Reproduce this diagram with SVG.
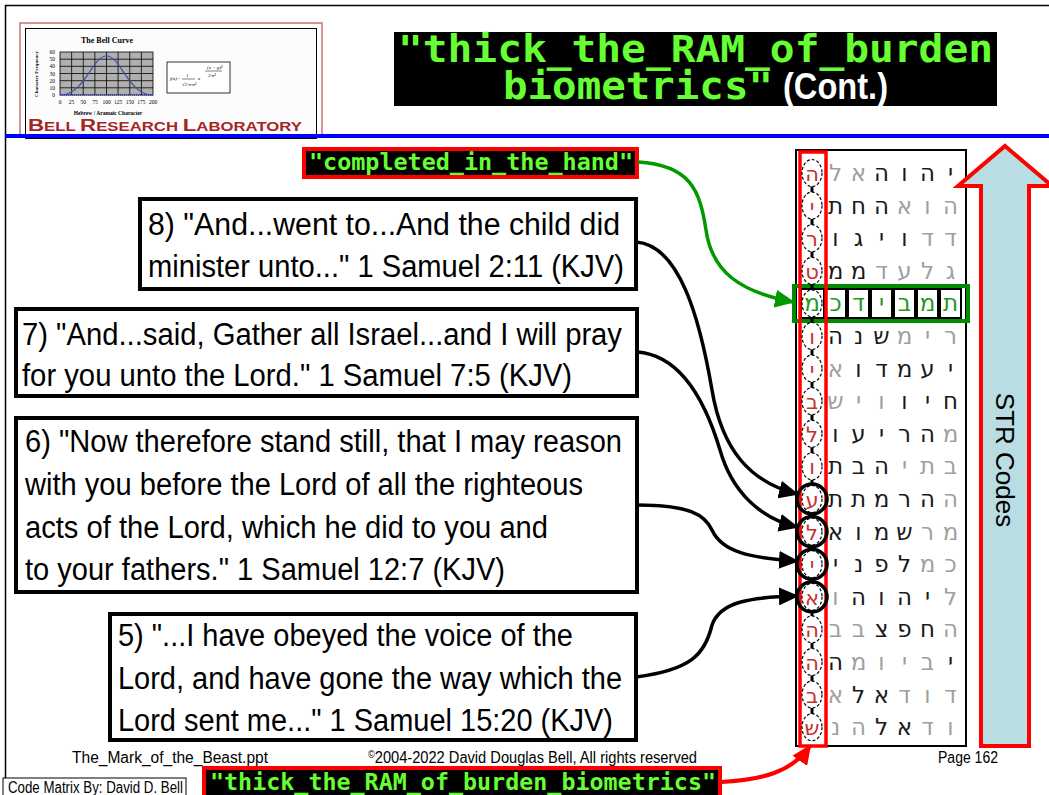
<svg xmlns="http://www.w3.org/2000/svg" width="1049" height="795" viewBox="0 0 1049 795">
<style>
.box{fill:#fff;stroke:#000;stroke-width:4}
.bt{font-family:"Liberation Sans",Arial,sans-serif;font-size:31px;fill:#000}
.mono{font-family:"DejaVu Sans Mono","Liberation Mono",monospace;font-weight:bold;fill:#66ff33}
.heb{font-family:"DejaVu Sans","Liberation Sans",sans-serif;font-size:23px;text-anchor:middle}
.b{fill:#1a1a1a}.g{fill:#a0a0a0}.r{fill:#c83030;font-size:21px}.gr{fill:#1f9a1f}
.ell{fill:none;stroke:#000;stroke-width:1.2;stroke-dasharray:3 2}
.chain{stroke:#000;stroke-width:3}
.circ{fill:none;stroke:#000;stroke-width:3.5}
.cell{fill:#fff;stroke:#000;stroke-width:2}
.conn{fill:none;stroke:#000;stroke-width:3.5}
.foot{font-family:"Liberation Sans",Arial,sans-serif;font-size:16px;fill:#000}
.lg{font-family:"Liberation Serif","Times New Roman",serif;fill:#000}
</style>
<defs>
<marker id="ahk" markerUnits="userSpaceOnUse" markerWidth="20" markerHeight="18" refX="18" refY="9" orient="auto"><path d="M0,0 L20,9 L0,18 z" fill="#000"/></marker>
<marker id="ahg" markerUnits="userSpaceOnUse" markerWidth="20" markerHeight="18" refX="18" refY="9" orient="auto"><path d="M0,0 L20,9 L0,18 z" fill="#009900"/></marker>
<marker id="ahr" markerUnits="userSpaceOnUse" markerWidth="20" markerHeight="18" refX="18" refY="9" orient="auto"><path d="M0,0 L20,9 L0,18 z" fill="#ff0000"/></marker>
</defs>
<rect width="1049" height="795" fill="#fff"/>
<path d="M5.5,795 L5.5,5.5 L1049,5.5" fill="none" stroke="#000" stroke-width="1.5"/>

<g id="logo">
<rect x="20" y="23" width="302" height="114" fill="#fff" stroke="#c87070" stroke-width="1.5"/>
<rect x="25.5" y="28.5" width="291" height="110" fill="#fcfcfc" stroke="#000" stroke-width="1"/>
<text class="lg" x="107" y="43" font-size="8" font-weight="bold" text-anchor="middle">The Bell Curve</text>
<text class="lg" x="38" y="74" font-size="5" font-weight="bold" text-anchor="middle" transform="rotate(-90 38 74)">Character Frequency</text>
<rect x="60" y="52" width="93" height="43" fill="#b0b0b0" stroke="#000" stroke-width="0.8"/>
<path d="M71.6,52V95M83.25,52V95M94.9,52V95M106.5,52V95M118.1,52V95M129.75,52V95M141.4,52V95M60,59.2H153M60,66.3H153M60,73.5H153M60,80.7H153M60,87.8H153" stroke="#000" stroke-width="0.8"/>
<path d="M60,95 C85,95 92,56 106.5,56 C121,56 128,95 153,95" fill="none" stroke="#4050a0" stroke-width="1.2"/>
<path d="M60,95H153" stroke="#3040c0" stroke-width="1.5" stroke-dasharray="1 1"/>
<g class="lg" font-size="5.5" text-anchor="end">
<text x="55" y="54">60</text><text x="55" y="61">50</text><text x="55" y="68">40</text><text x="55" y="75.5">30</text><text x="55" y="82.5">20</text><text x="55" y="89.5">10</text><text x="55" y="97">0</text>
</g>
<g class="lg" font-size="5.5" text-anchor="middle">
<text x="60" y="104">0</text><text x="71.6" y="104">25</text><text x="83.25" y="104">50</text><text x="94.9" y="104">75</text><text x="106.5" y="104">100</text><text x="118.1" y="104">125</text><text x="129.75" y="104">150</text><text x="141.4" y="104">175</text><text x="153" y="104">200</text>
</g>
<text class="lg" x="108" y="115" font-size="5.5" font-weight="bold" text-anchor="middle">Hebrew / Aramaic Character</text>
<rect x="167" y="62" width="63" height="31" fill="#fff" stroke="#000" stroke-width="0.8"/>
<g class="lg" font-size="5" font-style="italic">
<text x="170" y="80">f(x)=</text><text x="186" y="77">1</text>
<path d="M182,79H195" stroke="#000" stroke-width="0.5"/>
<text x="182" y="86">√2·π·σ²</text><text x="198" y="80">e</text>
<text x="207" y="69">(x − μ)²</text>
<path d="M205,71H222" stroke="#000" stroke-width="0.5"/>
<text x="208" y="77">2·σ²</text>
</g>
<text x="28" y="131" font-family="Liberation Sans,Arial,sans-serif" font-weight="bold" fill="#a3261f" textLength="274" lengthAdjust="spacingAndGlyphs"><tspan font-size="16">B</tspan><tspan font-size="12">ELL </tspan><tspan font-size="16">R</tspan><tspan font-size="12">ESEARCH </tspan><tspan font-size="16">L</tspan><tspan font-size="12">ABORATORY</tspan></text>
</g>
<rect x="5" y="134" width="1044" height="4" fill="#0000ff"/>

<g id="title">
<rect x="394" y="32" width="603" height="74" fill="#000"/>
<text class="mono" x="398" y="62" font-size="37" textLength="595" lengthAdjust="spacingAndGlyphs">"thick_the_RAM_of_burden</text>
<text class="mono" x="503" y="99" font-size="37" textLength="270" lengthAdjust="spacingAndGlyphs">biometrics"</text>
<text x="783" y="99" font-family="Liberation Sans,Arial,sans-serif" font-weight="bold" font-size="36" fill="#fff" textLength="105" lengthAdjust="spacingAndGlyphs">(Cont.)</text>
</g>

<g id="matrix">
<rect x="796" y="150" width="170" height="596" fill="#fff" stroke="#000" stroke-width="2"/>
<rect x="794" y="286" width="174" height="35" fill="none" stroke="#008c00" stroke-width="4"/>
<g>
<rect class="cell" x="801" y="289" width="23" height="29"/>
<rect class="cell" x="825" y="289" width="21" height="29"/>
<rect class="cell" x="848" y="289" width="21" height="29"/>
<rect class="cell" x="871" y="289" width="21" height="29"/>
<rect class="cell" x="894" y="289" width="21" height="29"/>
<rect class="cell" x="917" y="289" width="21" height="29"/>
<rect class="cell" x="940" y="289" width="21" height="29"/>
</g>
<rect x="800" y="152" width="26" height="594" fill="none" stroke="#ff0000" stroke-width="3.5"/>
<g id="chain">
<ellipse class="ell" cx="812" cy="173" rx="10" ry="13.5"/><ellipse class="ell" cx="812" cy="205.6" rx="10" ry="13.5"/><ellipse class="ell" cx="812" cy="238.2" rx="10" ry="13.5"/><ellipse class="ell" cx="812" cy="270.8" rx="10" ry="13.5"/><ellipse class="ell" cx="812" cy="303.4" rx="10" ry="13.5"/><ellipse class="ell" cx="812" cy="336" rx="10" ry="13.5"/><ellipse class="ell" cx="812" cy="368.6" rx="10" ry="13.5"/><ellipse class="ell" cx="812" cy="401.2" rx="10" ry="13.5"/><ellipse class="ell" cx="812" cy="433.8" rx="10" ry="13.5"/><ellipse class="ell" cx="812" cy="466.4" rx="10" ry="13.5"/><ellipse class="ell" cx="812" cy="499" rx="10" ry="13.5"/><ellipse class="ell" cx="812" cy="531.6" rx="10" ry="13.5"/><ellipse class="ell" cx="812" cy="564.2" rx="10" ry="13.5"/><ellipse class="ell" cx="812" cy="596.8" rx="10" ry="13.5"/><ellipse class="ell" cx="812" cy="629.4" rx="10" ry="13.5"/><ellipse class="ell" cx="812" cy="662" rx="10" ry="13.5"/><ellipse class="ell" cx="812" cy="694.6" rx="10" ry="13.5"/><ellipse class="ell" cx="812" cy="727.2" rx="10" ry="13.5"/>
<path class="chain" d="M812,186.5V192.1M812,219.1V224.7M812,251.7V257.3M812,284.3V289.9M812,316.9V322.5M812,349.5V355.1M812,382.1V387.7M812,414.7V420.3M812,447.3V452.9M812,479.9V485.5M812,512.5V518.1M812,545.1V550.7M812,577.7V583.3M812,610.3V615.9M812,642.9V648.5M812,675.5V681.1M812,708.1V713.7"/>
<circle class="circ" cx="812" cy="499" r="15"/><circle class="circ" cx="812" cy="531.6" r="15"/><circle class="circ" cx="812" cy="564.2" r="15"/><circle class="circ" cx="812" cy="596.8" r="15"/>
</g>
<g class="heb">
<text class="r" x="812" y="181">ה</text><text class="g" x="835.5" y="181">ל</text><text class="g" x="858.5" y="181">א</text><text class="b" x="881.5" y="181">ה</text><text class="b" x="904.5" y="181">ו</text><text class="b" x="927.5" y="181">ה</text><text class="b" x="950.5" y="181">י</text>
<text class="r" x="812" y="213.6">י</text><text class="b" x="835.5" y="213.6">ת</text><text class="b" x="858.5" y="213.6">ח</text><text class="b" x="881.5" y="213.6">ה</text><text class="g" x="904.5" y="213.6">א</text><text class="g" x="927.5" y="213.6">ו</text><text class="g" x="950.5" y="213.6">ה</text>
<text class="r" x="812" y="246.2">ר</text><text class="b" x="835.5" y="246.2">ו</text><text class="b" x="858.5" y="246.2">ג</text><text class="b" x="881.5" y="246.2">י</text><text class="b" x="904.5" y="246.2">ו</text><text class="g" x="927.5" y="246.2">ד</text><text class="g" x="950.5" y="246.2">ד</text>
<text class="r" x="812" y="278.8">ט</text><text class="b" x="835.5" y="278.8">מ</text><text class="b" x="858.5" y="278.8">מ</text><text class="g" x="881.5" y="278.8">ד</text><text class="g" x="904.5" y="278.8">ע</text><text class="g" x="927.5" y="278.8">ל</text><text class="g" x="950.5" y="278.8">ג</text>
<text class="gr" x="812" y="311.4">מ</text><text class="gr" x="835.5" y="311.4">כ</text><text class="gr" x="858.5" y="311.4">ד</text><text class="gr" x="881.5" y="311.4">י</text><text class="gr" x="904.5" y="311.4">ב</text><text class="gr" x="927.5" y="311.4">מ</text><text class="gr" x="950.5" y="311.4">ת</text>
<text class="r" x="812" y="344">ו</text><text class="b" x="835.5" y="344">ה</text><text class="b" x="858.5" y="344">נ</text><text class="b" x="881.5" y="344">ש</text><text class="g" x="904.5" y="344">מ</text><text class="g" x="927.5" y="344">י</text><text class="g" x="950.5" y="344">ר</text>
<text class="r" x="812" y="376.6">י</text><text class="g" x="835.5" y="376.6">א</text><text class="b" x="858.5" y="376.6">ו</text><text class="b" x="881.5" y="376.6">ד</text><text class="b" x="904.5" y="376.6">מ</text><text class="b" x="927.5" y="376.6">ע</text><text class="b" x="950.5" y="376.6">י</text>
<text class="r" x="812" y="409.2">ב</text><text class="g" x="835.5" y="409.2">ש</text><text class="g" x="858.5" y="409.2">י</text><text class="g" x="881.5" y="409.2">ו</text><text class="b" x="904.5" y="409.2">ו</text><text class="b" x="927.5" y="409.2">י</text><text class="b" x="950.5" y="409.2">ח</text>
<text class="r" x="812" y="441.8">ל</text><text class="b" x="835.5" y="441.8">ו</text><text class="b" x="858.5" y="441.8">ע</text><text class="b" x="881.5" y="441.8">י</text><text class="b" x="904.5" y="441.8">ר</text><text class="b" x="927.5" y="441.8">ה</text><text class="g" x="950.5" y="441.8">מ</text>
<text class="r" x="812" y="474.4">ו</text><text class="b" x="835.5" y="474.4">ת</text><text class="b" x="858.5" y="474.4">ב</text><text class="b" x="881.5" y="474.4">ה</text><text class="g" x="904.5" y="474.4">י</text><text class="g" x="927.5" y="474.4">ת</text><text class="g" x="950.5" y="474.4">ב</text>
<text class="r" x="812" y="507">ע</text><text class="b" x="835.5" y="507">ת</text><text class="b" x="858.5" y="507">ת</text><text class="b" x="881.5" y="507">מ</text><text class="b" x="904.5" y="507">ר</text><text class="b" x="927.5" y="507">ה</text><text class="g" x="950.5" y="507">ה</text>
<text class="r" x="812" y="539.6">ל</text><text class="b" x="835.5" y="539.6">א</text><text class="b" x="858.5" y="539.6">ו</text><text class="b" x="881.5" y="539.6">מ</text><text class="b" x="904.5" y="539.6">ש</text><text class="g" x="927.5" y="539.6">ר</text><text class="g" x="950.5" y="539.6">מ</text>
<text class="r" x="812" y="572.2">י</text><text class="b" x="835.5" y="572.2">י</text><text class="b" x="858.5" y="572.2">נ</text><text class="b" x="881.5" y="572.2">פ</text><text class="b" x="904.5" y="572.2">ל</text><text class="g" x="927.5" y="572.2">מ</text><text class="g" x="950.5" y="572.2">כ</text>
<text class="r" x="812" y="604.8">א</text><text class="g" x="835.5" y="604.8">ו</text><text class="b" x="858.5" y="604.8">ה</text><text class="b" x="881.5" y="604.8">ו</text><text class="b" x="904.5" y="604.8">ה</text><text class="b" x="927.5" y="604.8">י</text><text class="g" x="950.5" y="604.8">ל</text>
<text class="r" x="812" y="637.4">ה</text><text class="g" x="835.5" y="637.4">ב</text><text class="g" x="858.5" y="637.4">ב</text><text class="b" x="881.5" y="637.4">צ</text><text class="b" x="904.5" y="637.4">פ</text><text class="b" x="927.5" y="637.4">ח</text><text class="g" x="950.5" y="637.4">ה</text>
<text class="r" x="812" y="670">ה</text><text class="b" x="835.5" y="670">ה</text><text class="g" x="858.5" y="670">מ</text><text class="g" x="881.5" y="670">ו</text><text class="g" x="904.5" y="670">י</text><text class="g" x="927.5" y="670">ב</text><text class="b" x="950.5" y="670">י</text>
<text class="r" x="812" y="702.6">ב</text><text class="g" x="835.5" y="702.6">א</text><text class="b" x="858.5" y="702.6">ל</text><text class="b" x="881.5" y="702.6">א</text><text class="g" x="904.5" y="702.6">ד</text><text class="g" x="927.5" y="702.6">ו</text><text class="g" x="950.5" y="702.6">ד</text>
<text class="r" x="812" y="735.2">ש</text><text class="g" x="835.5" y="735.2">נ</text><text class="g" x="858.5" y="735.2">ה</text><text class="b" x="881.5" y="735.2">ל</text><text class="b" x="904.5" y="735.2">א</text><text class="g" x="927.5" y="735.2">ד</text><text class="g" x="950.5" y="735.2">ו</text>
</g>
</g>

<g id="str-arrow">
<path d="M1005,146 L1052,186 L1029,186 L1029,746 L981,746 L981,186 L958,186 Z" fill="#b8dde2" stroke="#ff0000" stroke-width="4" stroke-linejoin="miter"/>
<text x="1005" y="460" font-family="Liberation Sans,Arial,sans-serif" font-size="26" text-anchor="middle" transform="rotate(90 1005 460)" dy="9">STR Codes</text>
</g>

<g id="label-completed">
<rect x="304" y="149" width="333" height="28" fill="#000" stroke="#ff0000" stroke-width="4"/>
<text class="mono" x="309" y="170" font-size="23" textLength="324" lengthAdjust="spacingAndGlyphs">"completed_in_the_hand"</text>
</g>

<g id="box8">
<rect class="box" x="140" y="199" width="496" height="90"/>
<text class="bt" x="148" y="235" textLength="472" lengthAdjust="spacingAndGlyphs">8) "And...went to...And the child did</text>
<text class="bt" x="148" y="277" textLength="476" lengthAdjust="spacingAndGlyphs">minister unto..." 1 Samuel 2:11 (KJV)</text>
</g>
<g id="box7">
<rect class="box" x="16" y="309" width="621" height="87"/>
<text class="bt" x="22" y="345" textLength="600" lengthAdjust="spacingAndGlyphs">7) "And...said, Gather all Israel...and I will pray</text>
<text class="bt" x="22" y="386" textLength="550" lengthAdjust="spacingAndGlyphs">for you unto the Lord." 1 Samuel 7:5 (KJV)</text>
</g>
<g id="box6">
<rect class="box" x="16" y="418" width="621" height="174"/>
<text class="bt" x="25" y="452" textLength="597" lengthAdjust="spacingAndGlyphs">6) "Now therefore stand still, that I may reason</text>
<text class="bt" x="25" y="495" textLength="558" lengthAdjust="spacingAndGlyphs">with you before the Lord of all the righteous</text>
<text class="bt" x="25" y="538" textLength="523" lengthAdjust="spacingAndGlyphs">acts of the Lord, which he did to you and</text>
<text class="bt" x="25" y="580" textLength="480" lengthAdjust="spacingAndGlyphs">to your fathers." 1 Samuel 12:7 (KJV)</text>
</g>
<g id="box5">
<rect class="box" x="110" y="614" width="526" height="126"/>
<text class="bt" x="118" y="646" textLength="455" lengthAdjust="spacingAndGlyphs">5) "...I have obeyed the voice of the</text>
<text class="bt" x="118" y="689" textLength="504" lengthAdjust="spacingAndGlyphs">Lord, and have gone the way which the</text>
<text class="bt" x="118" y="731" textLength="495" lengthAdjust="spacingAndGlyphs">Lord sent me..." 1 Samuel 15:20 (KJV)</text>
</g>

<g id="connectors">
<path class="conn" d="M636,242 C680,245 700,320 712,390 C722,450 750,482 797,494" marker-end="url(#ahk)"/>
<path class="conn" d="M637,352 C680,355 705,400 720,450 C732,492 760,518 797,527" marker-end="url(#ahk)"/>
<path class="conn" d="M637,505 C690,505 705,515 712,530 C722,552 750,558 797,561" marker-end="url(#ahk)"/>
<path class="conn" d="M636,677 C690,670 705,655 712,625 C720,602 750,597 797,596" marker-end="url(#ahk)"/>
<path d="M638,162 C690,165 700,190 706,230 C712,272 740,292 793,302" fill="none" stroke="#009900" stroke-width="3.5" marker-end="url(#ahg)"/>
<path d="M721,782 C762,780 792,772 810,746" fill="none" stroke="#ff0000" stroke-width="4" marker-end="url(#ahr)"/>
</g>

<g id="footer">
<text class="foot" x="72" y="763" textLength="196" lengthAdjust="spacingAndGlyphs">The_Mark_of_the_Beast.ppt</text>
<text class="foot" x="368" y="763" textLength="329" lengthAdjust="spacingAndGlyphs"><tspan font-size="10" dy="-5">©</tspan><tspan dy="5">2004-2022 David Douglas Bell, All rights reserved</tspan></text>
<text class="foot" x="938" y="763" textLength="60" lengthAdjust="spacingAndGlyphs">Page 162</text>
<rect x="3" y="778" width="183" height="20" fill="#fff" stroke="#000" stroke-width="1"/>
<text class="foot" x="8" y="793" font-size="15" textLength="175" lengthAdjust="spacingAndGlyphs">Code Matrix By: David D. Bell</text>
</g>
<g id="label-bottom">
<rect x="204" y="768" width="516" height="32" fill="#000" stroke="#ff0000" stroke-width="4"/>
<text class="mono" x="210" y="790" font-size="23" textLength="506" lengthAdjust="spacingAndGlyphs">"thick_the_RAM_of_burden_biometrics"</text>
</g>
</svg>
